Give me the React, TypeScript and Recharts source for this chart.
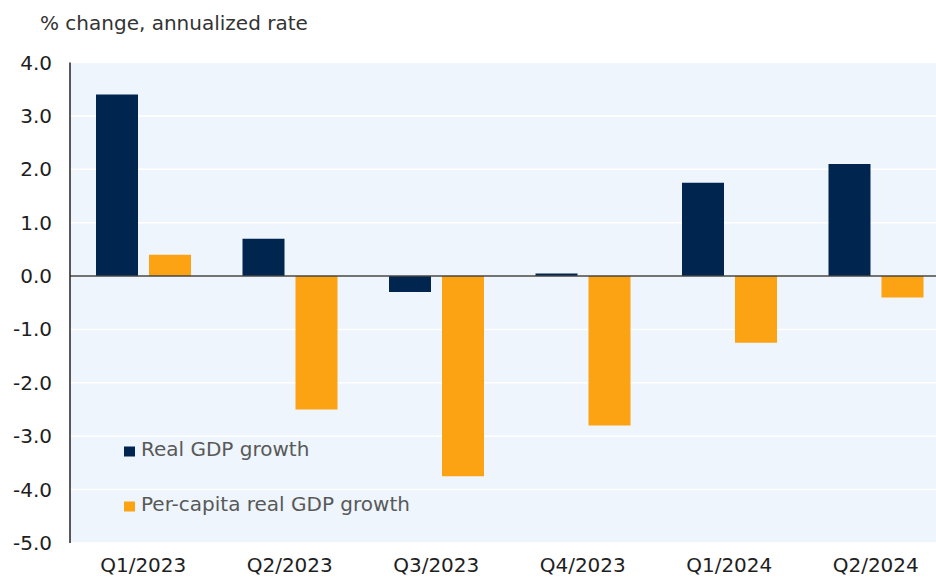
import React from "react";
import { BarChart, Bar, XAxis, YAxis, CartesianGrid, ReferenceLine, Legend } from "recharts";

const quarters = ["Q1/2023", "Q2/2023", "Q3/2023", "Q4/2023", "Q1/2024", "Q2/2024"];
const realGdpGrowth = [3.4, 0.7, -0.3, 0.05, 1.75, 2.1];
const perCapitaGrowth = [0.4, -2.5, -3.75, -2.8, -1.25, -0.4];
const yTicks = [-5, -4, -3, -2, -1, 0, 1, 2, 3, 4];
const seriesNames = ["Real GDP growth", "Per-capita real GDP growth"];
const yTitle = "% change, annualized rate";

const data = quarters.map((q, i) => ({ q, real: realGdpGrowth[i], perCapita: perCapitaGrowth[i] }));

const FONT = "'DejaVu Sans', sans-serif";
const NAVY = "#00264F";
const ORANGE = "#FCA313";

const YTick = (props: any) => {
  const { y, payload } = props;
  return (
    <text x={52} y={y + 7} textAnchor="end" fontFamily={FONT} fontSize={20} fill="#1e1e1e">
      {Number(payload.value).toFixed(1)}
    </text>
  );
};

const XTick = (props: any) => {
  const { x, payload } = props;
  return (
    <text x={x} y={572} textAnchor="middle" fontFamily={FONT} fontSize={20} fill="#1e1e1e">
      {payload.value}
    </text>
  );
};

const LegendContent = (props: any) => {
  const payload = [...(props.payload || [])].sort(
    (a: any, b: any) => seriesNames.indexOf(a.value) - seriesNames.indexOf(b.value)
  );
  return (
    <svg width={330} height={90} style={{ display: "block" }}>
      {payload.map((p: any, i: number) => (
        <g key={i}>
          <rect x={4} y={10.5 + i * 55} width={11} height={10} fill={p.color} />
          <text x={21} y={19.8 + i * 55} fontFamily={FONT} fontSize={20} fill="#595959">
            {p.value}
          </text>
        </g>
      ))}
    </svg>
  );
};

export default function App() {
  return (
    <div style={{ position: "fixed", left: 0, top: 0, width: 936, height: 579, overflow: "hidden", background: "#fff" }}>
      <svg width={400} height={40} style={{ position: "absolute", left: 0, top: 0 }}>
        <text x={40} y={30} fontFamily={FONT} fontSize={20} fill="#333">
          {yTitle}
        </text>
      </svg>
      <BarChart
        width={949}
        height={579}
        data={data}
        margin={{ top: 62.5, right: 0, bottom: 0, left: 0 }}
        barSize={42}
        barGap={11}
      >
        <CartesianGrid vertical={false} horizontal={true} stroke="#ffffff" strokeWidth={1.5} fill="#EEF5FC" />
        <XAxis dataKey="q" height={36} axisLine={false} tickLine={false} tick={<XTick />} interval={0} />
        <YAxis
          width={70}
          domain={[-5, 4]}
          ticks={yTicks}
          axisLine={{ stroke: "#222", strokeWidth: 1.5 }}
          tickLine={false}
          tick={<YTick />}
          interval={0}
        />
        <Bar dataKey="real" name={seriesNames[0]} fill={NAVY} isAnimationActive={false} />
        <Bar dataKey="perCapita" name={seriesNames[1]} fill={ORANGE} isAnimationActive={false} />
        <ReferenceLine y={0} stroke="#444" strokeWidth={1.6} />
        <Legend
          layout="vertical"
          align="center"
          verticalAlign="middle"
          content={<LegendContent />}
          wrapperStyle={{ left: 120, top: 436, width: 330, height: 90 }}
        />
      </BarChart>
    </div>
  );
}
